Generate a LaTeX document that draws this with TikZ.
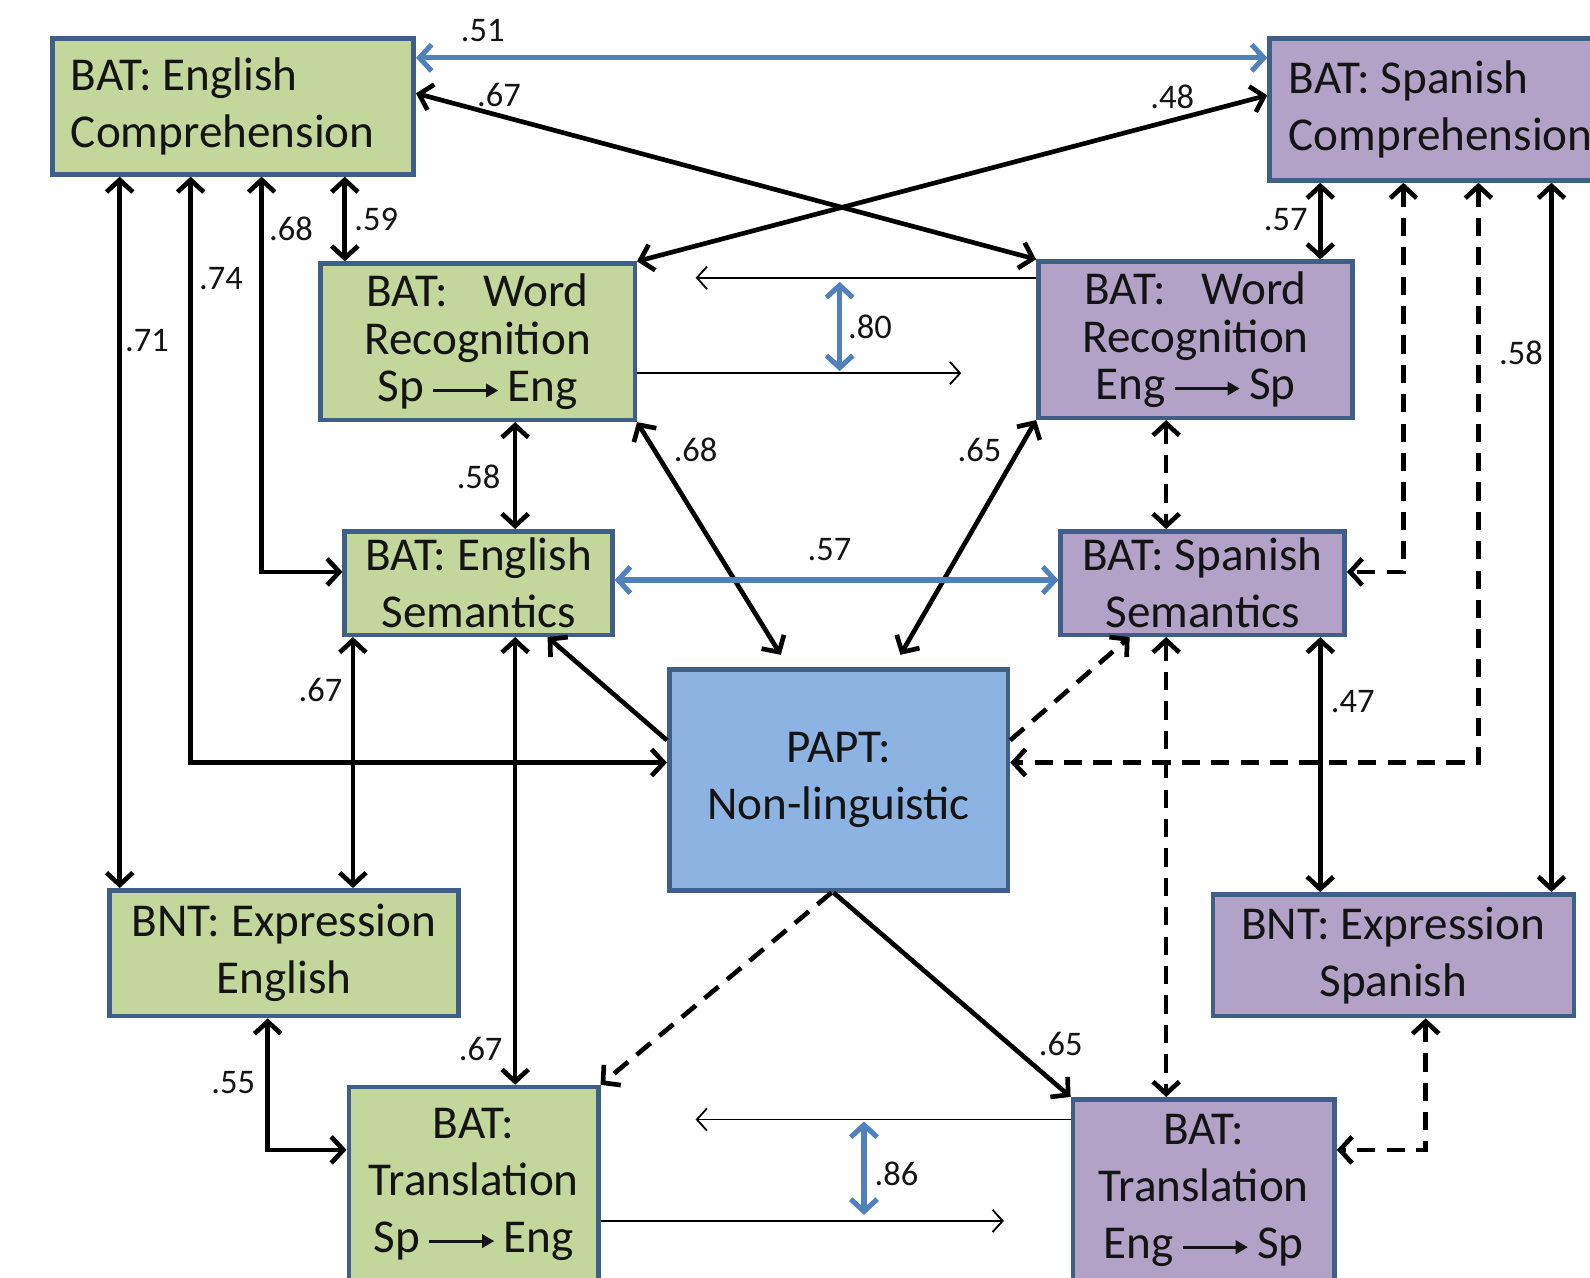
\documentclass[tikz,border=0pt]{standalone}
\usepackage{fontspec}
\setmainfont{Carlito}
\usetikzlibrary{arrows.meta}
\definecolor{grn}{HTML}{C3D69B}
\definecolor{pur}{HTML}{B3A2C7}
\definecolor{papt}{HTML}{8DB3E2}
\definecolor{bord}{HTML}{3F5F88}
\definecolor{arrb}{HTML}{4F81BD}
\definecolor{txt}{HTML}{141414}
\frenchspacing
\newcommand\txtarrow{\tikz[baseline={(0pt,-11pt)}]\draw[line width=3pt,-{Triangle[length=12pt,width=13pt]}] (0pt,0pt) -- (64pt,0pt);}
\newcommand\lefttext[2]{\parbox[c]{#1}{\raggedright #2}}
\begin{document}
\begin{tikzpicture}[x=1pt,y=-1pt,
  box/.style={draw=bord, line width=4.5pt, text=txt, align=center, inner sep=0pt,
    font=\fontsize{46.5}{56}\selectfont},
  lbox/.style={draw=bord, line width=4.5pt, text=txt, inner sep=0pt,
    font=\fontsize{46.5}{56}\selectfont},
  lbl/.style={font=\fontsize{34}{40}\selectfont, text=txt, inner sep=0pt},
  thk/.style={line width=4.6pt, draw=black, >={Straight Barb[length=12pt,width=26pt]}},
  dsh/.style={thk, dash pattern=on 18pt off 11pt},
  blu/.style={line width=5pt, draw=arrb, >={Straight Barb[length=12pt,width=26pt]}},
  thn/.style={line width=1.8pt, draw=black, >={Straight Barb[length=10pt,width=22pt]}}
]
\useasboundingbox (0,0) rectangle (1568,1260);
\fill[white] (0,0) rectangle (1568,1260);

% boxes
\node[lbox, fill=grn, inner xsep=18pt, minimum height=134pt] (EC) at (230,105) {\lefttext{320pt}{BAT: English\\Comprehension}};
\node[lbox, fill=pur, inner xsep=19pt, minimum height=140pt] (SC) at (1430,108) {\lefttext{318pt}{BAT: Spanish\\Comprehension}};
\node[box, fill=grn, minimum width=310pt, minimum height=154pt, font=\fontsize{46.5}{47}\selectfont] (WR1) at (471,337) {BAT:\hspace{0.75em}Word\\Recognition\\Sp\,\txtarrow\,Eng};
\node[box, fill=pur, minimum width=310pt, minimum height=154pt, font=\fontsize{46.5}{47}\selectfont] (WR2) at (1179,335) {BAT:\hspace{0.75em}Word\\Recognition\\Eng\,\txtarrow\,Sp};
\node[box, fill=grn, minimum width=264pt, minimum height=102pt] (ES) at (472,575) {BAT: English\\Semantics};
\node[box, fill=pur, minimum width=280pt, minimum height=102pt] (SS) at (1186,575) {BAT: Spanish\\Semantics};
\node[box, fill=papt, minimum width=334pt, minimum height=218pt] (PAPT) at (827,769) {PAPT:\\Non-linguistic};
\node[box, fill=grn, minimum width=344pt, minimum height=124pt] (BE) at (280,940) {BNT: Expression\\English};
\node[box, fill=pur, minimum width=356pt, minimum height=120pt] (BS) at (1374,942) {BNT: Expression\\Spanish};
\node[box, fill=grn, minimum width=246pt, minimum height=192pt] (TE) at (467,1168) {BAT:\\Translation\\Sp\,\txtarrow\,Eng};
\node[box, fill=pur, minimum width=258pt, minimum height=180pt] (TS) at (1187,1174) {BAT:\\Translation\\Eng\,\txtarrow\,Sp};

% free ends
\coordinate (c80a) at (828,278);
\coordinate (c80b) at (828,366);
\coordinate (c86a) at (852,1106);
\coordinate (c86b) at (852,1198);
\coordinate (t1) at (948,368);
\coordinate (t2) at (686,274);
\coordinate (t3) at (686,1104);
\coordinate (t4) at (990,1204);

% connectors
\draw[blu,<->] ([yshift=48pt]EC.east) -- ([yshift=51pt]SC.west);
\draw[thk,<->] ([yshift=13pt]EC.east) -- (WR2.north west);
\draw[thk,<->] ([yshift=14pt]SC.west) -- (WR1.north east);
\draw[thk,<->] ([xshift=110pt]EC.south) -- ([xshift=-131pt]WR1.north);
\draw[thk,<->] ([xshift=28pt]EC.south) |- ([yshift=11pt]ES.west);
\draw[thk,<->] ([xshift=-42pt]EC.south) |- ([yshift=17pt]PAPT.west);
\draw[thk,<->] ([xshift=-112pt]EC.south) -- ([xshift=-162pt]BE.north);
\draw[thk,<->] ([xshift=-128pt]SC.south) -- ([xshift=123pt]WR2.north);
\draw[dsh,<->] ([xshift=-46pt]SC.south) |- ([yshift=11pt]SS.east);
\draw[dsh,<->] ([xshift=28pt]SC.south) |- ([yshift=17pt]PAPT.east);
\draw[thk,<->] ([xshift=100pt]SC.south) -- ([xshift=156pt]BS.north);
\draw[blu,<->] (c80a) -- (c80b);
\draw[thn,->] ([yshift=-31pt]WR1.east) -- (t1);
\draw[thn,->] ([yshift=61pt]WR2.west) -- (t2);
\draw[thk,<->] ([xshift=37pt]WR1.south) -- ([xshift=36pt]ES.north);
\draw[thk,<->] (WR1.south east) -- ([xshift=-57pt,yshift=12pt]PAPT.north);
\draw[thk,<->] (WR2.south west) -- ([xshift=61pt,yshift=12pt]PAPT.north);
\draw[dsh,<->] ([xshift=-29pt]WR2.south) -- ([xshift=-36pt]SS.north);
\draw[blu,<->] ([yshift=3pt]ES.east) -- ([yshift=3pt]SS.west);
\draw[thk,->] ([yshift=39pt]PAPT.west) -- ([xshift=68pt]ES.south);
\draw[dsh,->] ([yshift=39pt]PAPT.east) -- ([xshift=-72pt]SS.south);
\draw[thk,<->] ([xshift=-124pt]ES.south) -- ([xshift=68pt]BE.north);
\draw[thk,<->] ([xshift=36pt]ES.south) -- ([xshift=41pt]TE.north);
\draw[dsh,<->] ([xshift=-36pt]SS.south) -- ([xshift=-37pt]TS.north);
\draw[thk,<->] ([xshift=116pt]SS.south) -- ([xshift=-72pt]BS.north);
\draw[dsh,->] ([xshift=-7pt]PAPT.south) -- (TE.north east);
\draw[thk,->] ([xshift=-5pt]PAPT.south) -- (TS.north west);
\draw[thk,<->] ([xshift=-16pt]BE.south) |- ([yshift=34pt]TE.west);
\draw[dsh,<->] ([xshift=32pt]BS.south) |- ([yshift=40pt]TS.east);
\draw[blu,<->] (c86a) -- (c86b);
\draw[thn,->] ([yshift=70pt]TS.west) -- (t3);
\draw[thn,->] ([yshift=-36pt]TE.east) -- (t4);

% labels
\node[lbl] (l51) at (476,30) {.51};
\node[lbl] (l67a) at (492,94) {.67};
\node[lbl] (l48) at (1156,96) {.48};
\node[lbl] (l68a) at (287,226) {.68};
\node[lbl] (l59) at (371,216) {.59};
\node[lbl] (l74) at (218,275) {.74};
\node[lbl] (l71) at (145,336) {.71};
\node[lbl] (l57a) at (1268,217) {.57};
\node[lbl] (l58a) at (1500,348) {.58};
\node[lbl] (l80) at (858,322) {.80};
\node[lbl] (l58b) at (472,470) {.58};
\node[lbl] (l68b) at (686,444) {.68};
\node[lbl] (l65a) at (966,444) {.65};
\node[lbl] (l57b) at (818,542) {.57};
\node[lbl] (l67b) at (316,680) {.67};
\node[lbl] (l47) at (1334,692) {.47};
\node[lbl] (l67c) at (474,1034) {.67};
\node[lbl] (l55) at (230,1068) {.55};
\node[lbl] (l65b) at (1046,1030) {.65};
\node[lbl] (l86) at (884,1158) {.86};
\end{tikzpicture}
\end{document}
